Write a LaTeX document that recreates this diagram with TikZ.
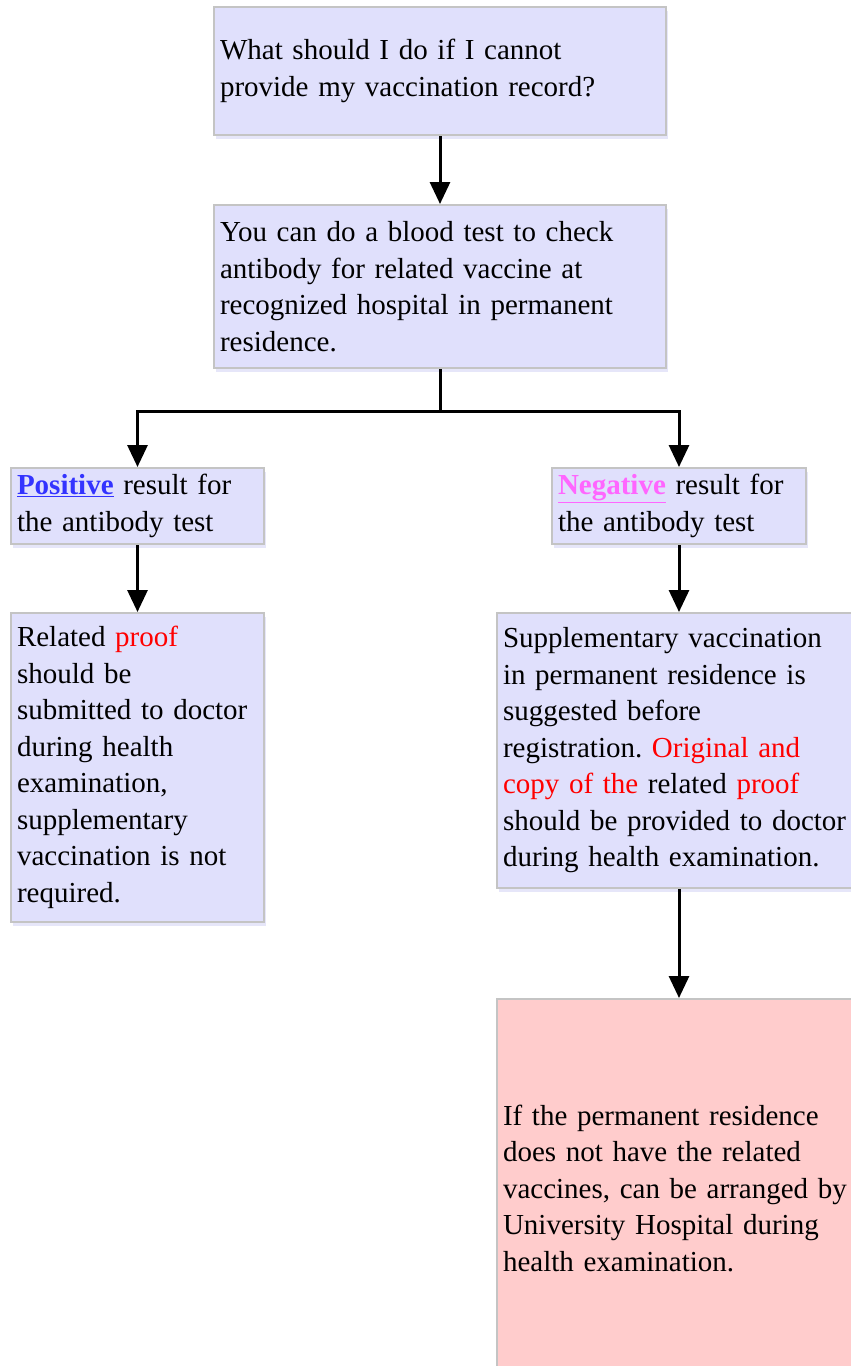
\documentclass[tikz,border=0pt]{standalone}
\usepackage{fontspec}
\setmainfont{Liberation Serif}
\usetikzlibrary{arrows.meta,shadows}

\definecolor{boxfill}{RGB}{224,224,252}
\definecolor{pinkfill}{RGB}{255,204,204}
\definecolor{boxline}{RGB}{196,196,196}
\definecolor{posblue}{RGB}{51,51,255}
\definecolor{negpink}{RGB}{255,102,255}
\definecolor{hired}{RGB}{255,0,0}
\hyphenpenalty=10000
\exhyphenpenalty=10000
\frenchspacing

\tikzset{
  box/.style={draw=boxline, line width=2pt, fill=boxfill, anchor=north west,
    inner xsep=6pt, inner ysep=0pt, align=left,
    font=\fontsize{29pt}{36.5pt}\selectfont,
    drop shadow={shadow xshift=2pt, shadow yshift=-4pt, opacity=0.12, fill=blue!60!gray}},
  arrow/.style={line width=3pt, -{Triangle[length=22pt,width=20pt]}}
}

\begin{document}
\begin{tikzpicture}
\useasboundingbox (0,0) rectangle (851pt,-1366pt);

\node [box, text width=440pt, minimum height=128pt] (ask) at (213pt,-6pt)
  {What should I do if I cannot\\provide my vaccination record?};
\node [box, text width=440pt, minimum height=163pt] (blood) at (213pt,-204pt)
  {You can do a blood test to check\\antibody for related vaccine at\\recognized hospital in permanent\\residence.};

\node [box, text width=241pt, minimum height=76pt] (pos) at (10pt,-467pt)
  {\textcolor{posblue}{\underline{\textbf{Positive}}} result for\\the antibody test};
\node [box, text width=242pt, minimum height=76pt] (neg) at (551pt,-467pt)
  {\textcolor{negpink}{\underline{\textbf{Negative}}} result for\\the antibody test};

\node [box, text width=241pt, minimum height=309pt] (proof) at (10pt,-612pt)
  {Related \textcolor{hired}{proof}\\should be\\submitted to doctor\\during health\\examination,\\supplementary\\vaccination is not\\required.};
\node [box, text width=352pt, minimum height=275pt] (supp) at (496pt,-612pt)
  {Supplementary vaccination\\in permanent residence is\\suggested before\\registration. \textcolor{hired}{Original and}\\\textcolor{hired}{copy of the} related \textcolor{hired}{proof}\\should be provided to doctor\\during health examination.};

\node [box, fill=pinkfill, text width=352pt, minimum height=378pt] (hosp) at (496pt,-998pt)
  {If the permanent residence\\does not have the related\\vaccines, can be arranged by\\University Hospital during\\health examination.};

% connectors
\coordinate (split) at ([yshift=-42pt]blood.south);
\draw [arrow] (ask) -- (blood);
\draw [line width=3pt] (blood) -- (split);
\draw [arrow] (split) -| (pos.north);
\draw [arrow] (split) -| (neg.north);
\draw [arrow] (pos) -- (proof);
\draw [arrow] (neg) -- (neg |- supp.north);
\draw [arrow] (neg |- supp.south) -- (neg |- hosp.north);
\end{tikzpicture}
\end{document}
